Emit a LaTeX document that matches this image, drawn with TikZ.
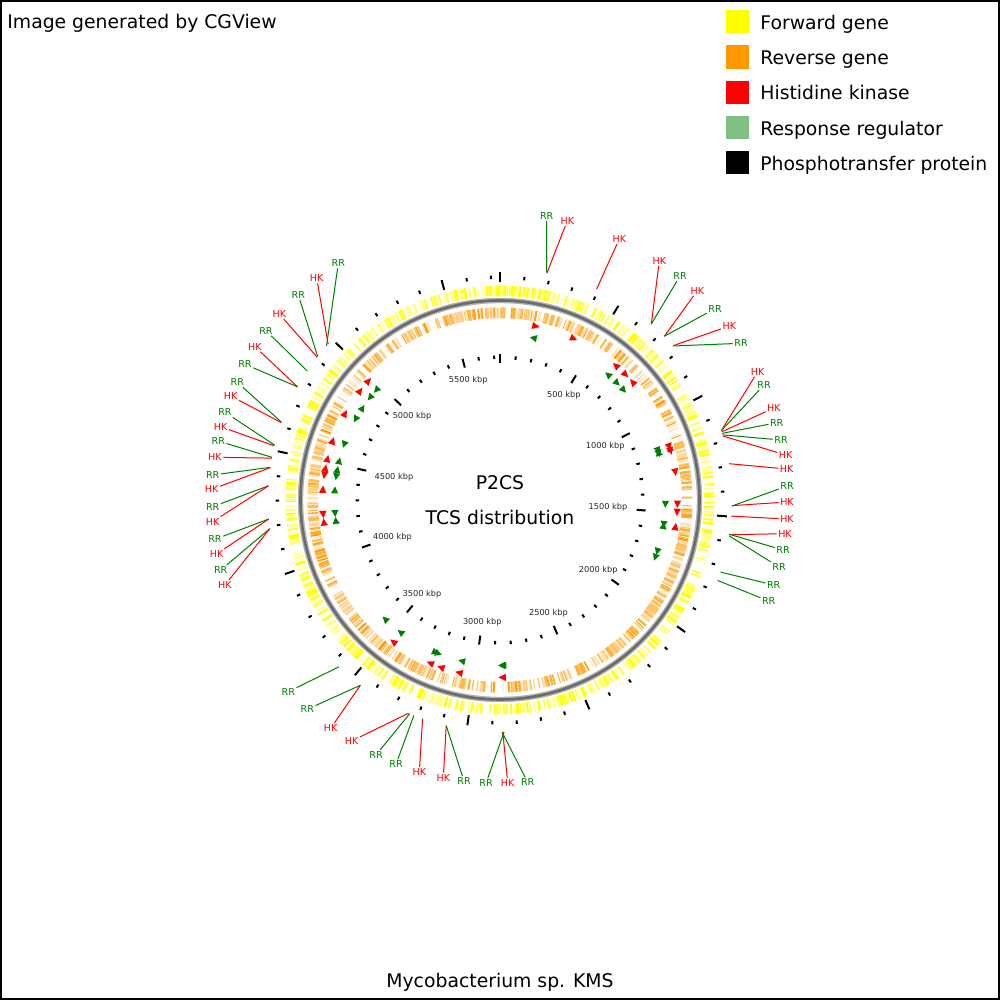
\documentclass[tikz,border=0pt]{standalone}
\usepackage{fontspec}
\setmainfont{DejaVu Sans}
\definecolor{fwdgene}{HTML}{FFFF00}
\definecolor{revgene}{HTML}{FF9900}
\definecolor{hkred}{HTML}{FF0000}
\definecolor{rrgreen}{HTML}{008000}
\definecolor{rrlegend}{HTML}{80C080}
% triangle of one TCS gene: angle, radius, strand (+1/-1), style
\newcommand{\tcsmark}[4]{%
  \fill[#4] ({#1-90+(#3)*1.2}:#2) -- ({#1-90-(#3)*1.2}:{#2-3.6}) -- ({#1-90-(#3)*1.2}:{#2+3.6}) -- cycle;}
\def\rHK{177.5}
\def\rRR{165.5}

\begin{document}
\begin{tikzpicture}[x=0.5pt, y=-0.5pt,
  every node/.style={inner sep=0pt},
  heading/.style={font=\fontsize{9.4}{11}\selectfont},
  legbox/.style={minimum size=11.6pt},
  kbp/.style={font=\fontsize{4.1}{5}\selectfont, text=black!85},
  tcslabel/.style={font=\fontsize{4.8}{6}\selectfont, inner sep=0.6pt},
  HK/.style={color=hkred},
  RR/.style={color=rrgreen},
  tick/.style={line width=1pt}]
\useasboundingbox (-500,-500) rectangle (500,500);
\draw[line width=1pt] (-499,-499) rectangle (499,499);

% === header and legend ===
\node[heading, anchor=base west] (credit) at (-493,-471) {Image generated by CGView};
\foreach \c/\txt [count=\k from 0] in {fwdgene/Forward gene, revgene/Reverse gene,
    hkred/Histidine kinase, rrlegend/Response regulator, black/Phosphotransfer protein} {
  \node[legbox, fill=\c] (box\k) at (237.3,{-478.3+35.25*\k}) {};
  \node[heading, anchor=base west] (leg\k) at (260,{-470.7+35.25*\k}) {\txt};
}

% === gene rings ===
\pgfmathsetseed{2718}
\foreach \i in {1,...,800} {
  \pgfmathsetmacro\a{360*rnd}
  \pgfmathsetmacro\w{0.25+1.1*rnd}
  \pgfmathtruncatemacro\s{min(100,20+95*rnd)}
  \draw[color=fwdgene!\s, line width=\w pt] (\a:204) -- (\a:214.5);
}
\foreach \i in {1,...,760} {
  \pgfmathsetmacro\a{360*rnd}
  \pgfmathsetmacro\w{0.25+1.1*rnd}
  \pgfmathtruncatemacro\s{min(95,18+80*rnd)}
  \draw[color=revgene!\s, line width=\w pt] (\a:182) -- (\a:192.5);
}
% backbone
\draw[line width=2.7pt, black!30] (0,0) circle[radius=199.5];
\draw[line width=1.3pt, black!58] (0,0) circle[radius=199.5];

% === ticks every 100 kbp ===
\foreach \k in {0,...,57} {
  \pgfmathsetmacro\g{\k*6.27506}
  \pgfmathtruncatemacro\m{mod(\k,5)}
  \ifnum\m=0
    \draw[tick] (\g-90:137) -- (\g-90:146);
    \draw[tick] (\g-90:217.5) -- (\g-90:227.5);
  \else
    \draw[tick] (\g-90:141) -- (\g-90:144.5);
    \draw[tick] (\g-90:221) -- (\g-90:224.5);
  \fi
}
\foreach \k in {1,...,11} {
  \pgfmathsetmacro\g{\k*31.3753}
  \pgfmathsetmacro\an{mod(450-\g,360)}
  \pgfmathtruncatemacro\kb{\k*500}
  \node[kbp, anchor=\an] (kb\k) at (\g-90:128) {\kb\ kbp};
}

% === TCS genes: angle/type/strand/label position ===
\foreach \g/\t/\d/\lx/\ly [count=\n] in {
  11.6/RR/-1/46.7/-284, 11.7/HK/1/67.3/-279.3, 24.6/HK/1/119.3/-261,
  40.7/HK/-1/159.3/-239, 40.7/RR/-1/180/-224, 45.1/HK/1/197.3/-209.3,
  45.1/RR/1/215/-191.3, 48.3/HK/-1/229.3/-174, 48.4/RR/1/241/-156.7,
  72.6/HK/1/257.7/-128.3, 72.6/RR/1/264/-115, 72.9/HK/-1/274/-92,
  73.3/RR/-1/276.7/-77.3, 73.7/RR/1/281/-60, 74.0/HK/1/285.7/-45,
  81.0/HK/1/286.7/-31, 91.5/RR/1/287/-14, 91.4/HK/1/287/2,
  94.0/HK/1/287/19, 98.6/HK/-1/285/33.7, 98.5/RR/1/283/50,
  98.9/RR/-1/279/67, 108.1/RR/1/273.7/85, 110.3/RR/1/268.7/101,
  311.6/RR/-1/-161.7/-236.7, 312.2/HK/1/-183.3/-221.7, 308.2/RR/-1/-201.7/-205,
  308.0/HK/1/-220.7/-186, 303.8/RR/1/-234/-169.3, 299.2/HK/1/-245/-153.3,
  299.2/RR/-1/-255/-135.7, 289.6/RR/-1/-262.7/-117.7, 289.5/HK/1/-269.3/-104,
  283.7/RR/1/-275/-87.7, 283.5/HK/1/-279.3/-73.3, 280.6/RR/1/-281.7/-59,
  280.4/HK/1/-285/-42.7, 278.1/RR/-1/-287.3/-25, 278.0/HK/-1/-288.3/-10.7,
  273.5/RR/1/-287.3/6.7, 273.5/HK/1/-287.3/21.7, 265.3/RR/-1/-285/39.3,
  265.3/HK/-1/-283.3/54, 262.9/RR/1/-279.3/70, 262.9/HK/1/-275/85,
  224.0/RR/1/-211.7/191.7, 217.0/RR/1/-192.7/209.3, 217.0/HK/1/-169.3/228.3,
  203.2/HK/1/-148.3/241, 202.9/RR/-1/-124/255, 201.8/RR/-1/-104/264.3,
  199.5/HK/1/-80.7/272.3, 193.4/HK/1/-56.7/277.7, 193.4/RR/1/-36/281,
  179.0/RR/1/-14/283.3, 179.3/HK/1/7.7/283.3, 179.5/RR/1/27.7/282.3} {
  \tcsmark{\g}{\csname r\t\endcsname}{\d}{\t}
  \coordinate (f\n) at (\g-90:232);
  \node[tcslabel, \t] (l\n) at (\lx,\ly) {\t};
  \draw[\t, line width=0.5pt] (f\n) -- (l\n);
}

% === titles ===
\node[heading, anchor=base] (ttl1) at (0,-10) {P2CS};
\node[heading, anchor=base] (ttl2) at (0,25) {TCS distribution};
\node[heading, anchor=base] (org) at (0,487) {Mycobacterium sp. KMS};
\end{tikzpicture}
\end{document}
